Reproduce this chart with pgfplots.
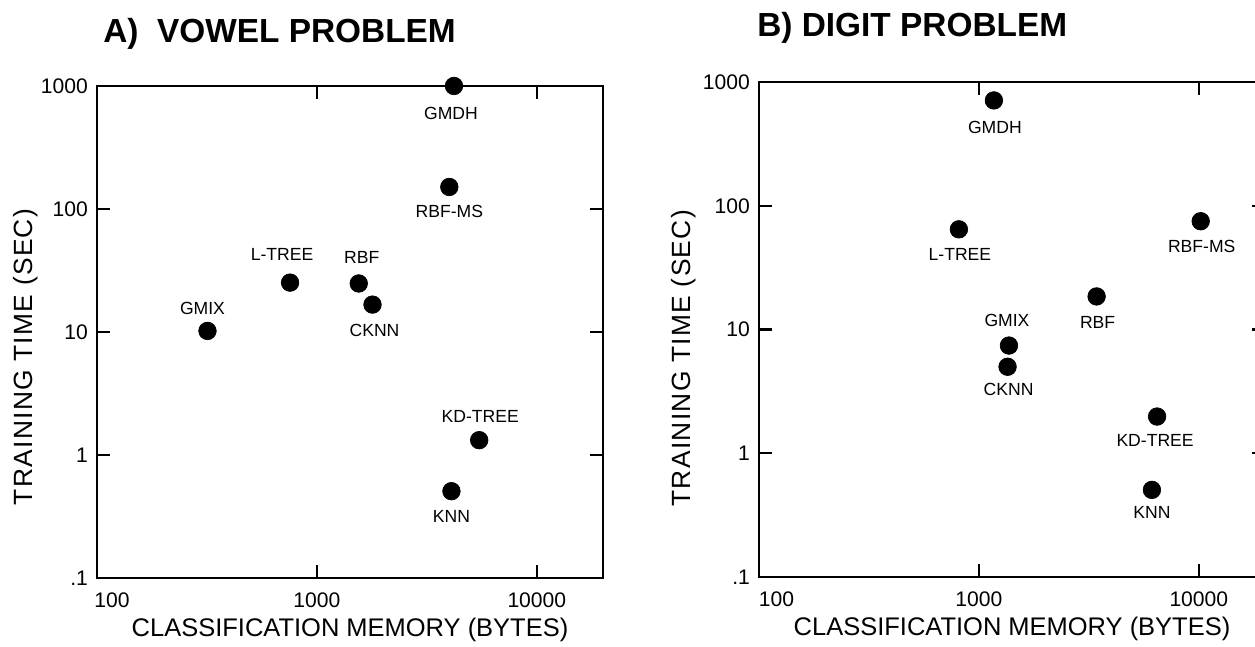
\documentclass[border=0pt]{standalone}
\usepackage{fontspec}
\setmainfont{Liberation Sans}
\newfontfamily\ylabfont[LetterSpace=5]{Liberation Sans}
\usepackage{pgfplots}
\pgfplotsset{compat=1.18}
\usepackage{pgfplotstable}

\pgfplotstableread{
x y label dx dy
4200 1000 GMDH -3 -28
4000 151 RBF-MS 0 -25
755 25.2 L-TREE -8 28
1550 24.8 RBF 3 26
1790 16.7 CKNN 2 -26
318 10.2 GMIX -5 23
5470 1.32 KD-TREE 1 24
4090 0.508 KNN 0 -25
}\vowel

\pgfplotstableread{
x y label dx dy
1170 710 GMDH 1 -27
811 64.5 L-TREE 1 -25
10200 75 RBF-MS 1 -25
3430 18.5 RBF 1 -26
1370 7.42 GMIX -2 25
1350 5.0 CKNN 1 -23
6460 1.98 KD-TREE -2 -24
6120 0.506 KNN 0 -23
}\digit

\begin{document}
\begin{tikzpicture}
\begin{axis}[
  scale only axis, width=10.12cm, height=9.84cm, at={(1.94cm,1.36cm)}, anchor=south west,
  xmode=log, ymode=log,
  xmin=100, xmax=20000, ymin=0.1, ymax=1000,
  xtick={100,1000,10000}, xticklabels={\hspace*{0.6cm}100,1000,10000},
  ytick={0.1,1,10,100,1000}, yticklabels={.1,1,10,100,1000},
  xminorticks=false, yminorticks=false,
  tick align=inside, major tick length=0.26cm,
  axis line style={line width=1.2pt},
  every tick/.append style={line width=1.2pt, black},
  /pgf/number format/assume math mode=true,
  ticklabel style={font=\fontsize{12}{14}\selectfont, inner sep=0pt},
  xticklabel style={yshift=-8pt},
  yticklabel style={xshift=-5pt},
  xlabel={CLASSIFICATION MEMORY (BYTES)},
  ylabel={TRAINING TIME (SEC)},
  xlabel style={font=\fontsize{14.5}{17}\selectfont, at={(axis description cs:0.5,-0.1055)}, anchor=center},
  ylabel style={font=\ylabfont\fontsize{15}{18}\selectfont, at={(axis description cs:-0.1403,0.449)}, anchor=center},
  clip=false]
\addplot[only marks, mark=*, mark size=5pt, black,
  nodes near coords, point meta=explicit symbolic,
  visualization depends on={\thisrow{dx} \as \dx},
  visualization depends on={\thisrow{dy} \as \dy},
  nodes near coords style={anchor=center, xshift=\dx*0.5669pt, yshift=\dy*0.5669pt,
     font=\fontsize{10}{12}\selectfont, text=black, inner sep=0pt}]
  table[x=x, y=y, meta=label] {\vowel};
\end{axis}
\begin{axis}[
  scale only axis, width=10.12cm, height=9.9cm, at={(15.18cm,1.38cm)}, anchor=south west,
  xmode=log, ymode=log,
  xmin=100, xmax=20000, ymin=0.1, ymax=1000,
  xtick={100,1000,10000}, xticklabels={\hspace*{0.7cm}100,1000,10000},
  ytick={0.1,1,10,100,1000}, yticklabels={.1,1,10,100,1000},
  xminorticks=false, yminorticks=false,
  tick align=inside, major tick length=0.26cm,
  axis line style={line width=1.2pt},
  every tick/.append style={line width=1.2pt, black},
  /pgf/number format/assume math mode=true,
  ticklabel style={font=\fontsize{12}{14}\selectfont, inner sep=0pt},
  xticklabel style={yshift=-8pt},
  yticklabel style={xshift=-5pt},
  xlabel={CLASSIFICATION MEMORY (BYTES)},
  ylabel={TRAINING TIME (SEC)},
  xlabel style={font=\fontsize{14.5}{17}\selectfont, at={(axis description cs:0.5,-0.1055)}, anchor=center},
  ylabel style={font=\ylabfont\fontsize{15}{18}\selectfont, at={(axis description cs:-0.148,0.442)}, anchor=center},
  clip=false]
\addplot[only marks, mark=*, mark size=5pt, black,
  nodes near coords, point meta=explicit symbolic,
  visualization depends on={\thisrow{dx} \as \dx},
  visualization depends on={\thisrow{dy} \as \dy},
  nodes near coords style={anchor=center, xshift=\dx*0.5669pt, yshift=\dy*0.5669pt,
     font=\fontsize{10}{12}\selectfont, text=black, inner sep=0pt}]
  table[x=x, y=y, meta=label] {\digit};
\end{axis}
\node[anchor=west, font=\bfseries\fontsize{19}{23}\selectfont, inner sep=0pt] at (2.06cm,12.25cm) {A)\ \ VOWEL PROBLEM};
\node[anchor=west, font=\bfseries\fontsize{19}{23}\selectfont, inner sep=0pt] at (15.14cm,12.36cm) {B)\ DIGIT PROBLEM};
\pgfresetboundingbox
\useasboundingbox (0cm,0cm) rectangle (25.1cm,12.92cm);
\end{tikzpicture}
\end{document}
